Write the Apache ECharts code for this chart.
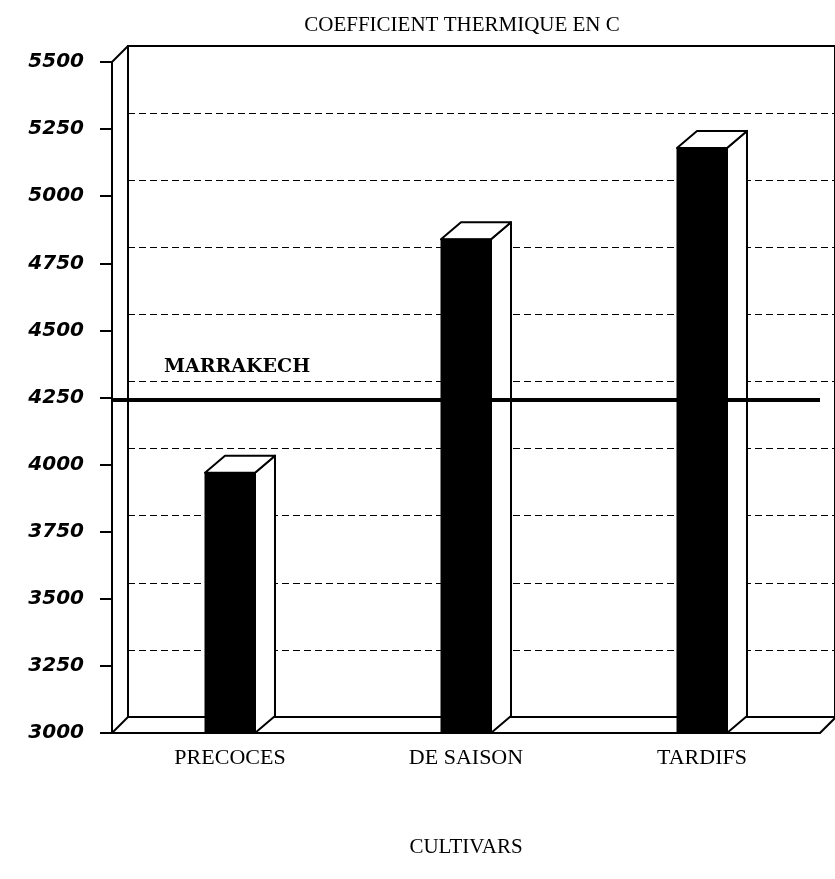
<!DOCTYPE html>
<html>
<head>
<meta charset="utf-8">
<script src="https://cdn.jsdelivr.net/npm/echarts@6/dist/echarts.min.js"></script>
<style>
  html, body { margin: 0; padding: 0; background: #fff; }
  #chart { width: 835px; height: 879px; }
</style>
</head>
<body>
<div id="chart"></div>
<script>
// data
var cultivars = ["PRECOCES", "DE SAISON", "TARDIFS"];
var thermalSum = [3970, 4840, 5180];
var marrakech = 4240;
var yTicks = { min: 3000, max: 5500, step: 250 };

// front plane and back wall of the fake 3D box
var FRONT = { left: 112, top: 62, right: 15, bottom: 146 };
var DEPTH = 16;          // back wall offset (px, right and up)
var BAR_W = 50;          // front face width
var BAR_DX = 20, BAR_DY = 17;

var myChart = echarts.init(document.getElementById("chart"));

function renderBar(params, api) {
  var top = api.coord([api.value(0), api.value(1)]);
  var base = api.coord([api.value(0), yTicks.min]);
  var x0 = top[0] - BAR_W / 2, x1 = top[0] + BAR_W / 2;
  var y0 = top[1], y1 = base[1];
  var line = { stroke: "#000", lineWidth: 2, fill: "#fff", lineJoin: "round" };
  return {
    type: "group",
    children: [
      { // side face
        type: "polygon",
        shape: { points: [[x1, y0], [x1 + BAR_DX, y0 - BAR_DY], [x1 + BAR_DX, y1 - BAR_DY], [x1, y1]] },
        style: line
      },
      { // top face
        type: "polygon",
        shape: { points: [[x0, y0], [x0 + BAR_DX, y0 - BAR_DY], [x1 + BAR_DX, y0 - BAR_DY], [x1, y0]] },
        style: line
      },
      { // front face
        type: "rect",
        shape: { x: x0, y: y0, width: BAR_W, height: y1 - y0 },
        style: { fill: "#000", stroke: "#000", lineWidth: 1 }
      }
    ]
  };
}

var W = 835, H = 879;
var fx0 = FRONT.left, fx1 = W - FRONT.right;
var fy0 = FRONT.top, fy1 = H - FRONT.bottom;
var edge = { stroke: "#000", lineWidth: 2 };

var option = {
  backgroundColor: "#fff",
  animation: false,
  title: {
    text: "COEFFICIENT THERMIQUE EN C",
    left: 457,
    top: 10,
    textAlign: "center",
    textStyle: { fontFamily: "Liberation Serif", fontSize: 21, fontWeight: "normal", color: "#000" }
  },
  grid: [
    { // front
      left: FRONT.left, top: FRONT.top, right: FRONT.right, bottom: FRONT.bottom
    },
    { // back wall
      left: FRONT.left + DEPTH, top: FRONT.top - DEPTH, right: FRONT.right - DEPTH, bottom: FRONT.bottom + DEPTH,
      show: true, borderColor: "#000", borderWidth: 2, backgroundColor: "#fff"
    }
  ],
  xAxis: [
    {
      type: "category",
      gridIndex: 0,
      data: cultivars,
      axisLine: { lineStyle: { color: "#000", width: 2 } },
      axisTick: { show: false },
      axisLabel: { margin: 14, color: "#000", fontFamily: "Liberation Serif", fontSize: 22 },
      name: "CULTIVARS",
      nameLocation: "middle",
      nameGap: 104,
      nameTextStyle: { color: "#000", fontFamily: "Liberation Serif", fontSize: 21 }
    },
    {
      type: "category",
      gridIndex: 1,
      data: cultivars,
      show: false
    }
  ],
  yAxis: [
    {
      type: "value",
      gridIndex: 0,
      min: yTicks.min, max: yTicks.max, interval: yTicks.step,
      axisLine: { show: true, lineStyle: { color: "#000", width: 2 } },
      axisTick: { show: true, length: 12, lineStyle: { color: "#000", width: 2 } },
      axisLabel: {
        margin: 28, color: "#000",
        formatter: function (v) { return String(v); },
        fontFamily: "DejaVu Sans", fontSize: 20, fontWeight: "bold", fontStyle: "italic"
      },
      splitLine: { show: false }
    },
    {
      type: "value",
      gridIndex: 1,
      min: yTicks.min, max: yTicks.max, interval: yTicks.step,
      axisLine: { show: false },
      axisTick: { show: false },
      axisLabel: { show: false },
      splitLine: { show: true, lineStyle: { color: "#000", width: 1, type: [7, 4] } }
    }
  ],
  graphic: [
    { type: "line", z: 5, shape: { x1: fx0, y1: fy0, x2: fx0 + DEPTH, y2: fy0 - DEPTH }, style: edge },
    { type: "line", z: 5, shape: { x1: fx0, y1: fy1, x2: fx0 + DEPTH, y2: fy1 - DEPTH }, style: edge },
    { type: "line", z: 5, shape: { x1: fx1, y1: fy1, x2: fx1 + DEPTH, y2: fy1 - DEPTH }, style: edge }
  ],
  series: [
    {
      name: "coefficient",
      type: "custom",
      xAxisIndex: 0,
      yAxisIndex: 0,
      z: 10,
      renderItem: renderBar,
      data: thermalSum.map(function (v, i) { return [i, v]; }),
      markLine: {
        silent: true,
        symbol: "none",
        z: 11,
        lineStyle: { color: "#000", width: 4, type: "solid" },
        label: {
          show: true,
          position: "insideStartTop",
          distance: [52, 24],
          formatter: "MARRAKECH",
          color: "#000",
          fontFamily: "DejaVu Serif",
          fontWeight: "bold",
          fontSize: 19
        },
        data: [{ yAxis: marrakech }]
      }
    }
  ]
};

myChart.setOption(option);
</script>
</body>
</html>
